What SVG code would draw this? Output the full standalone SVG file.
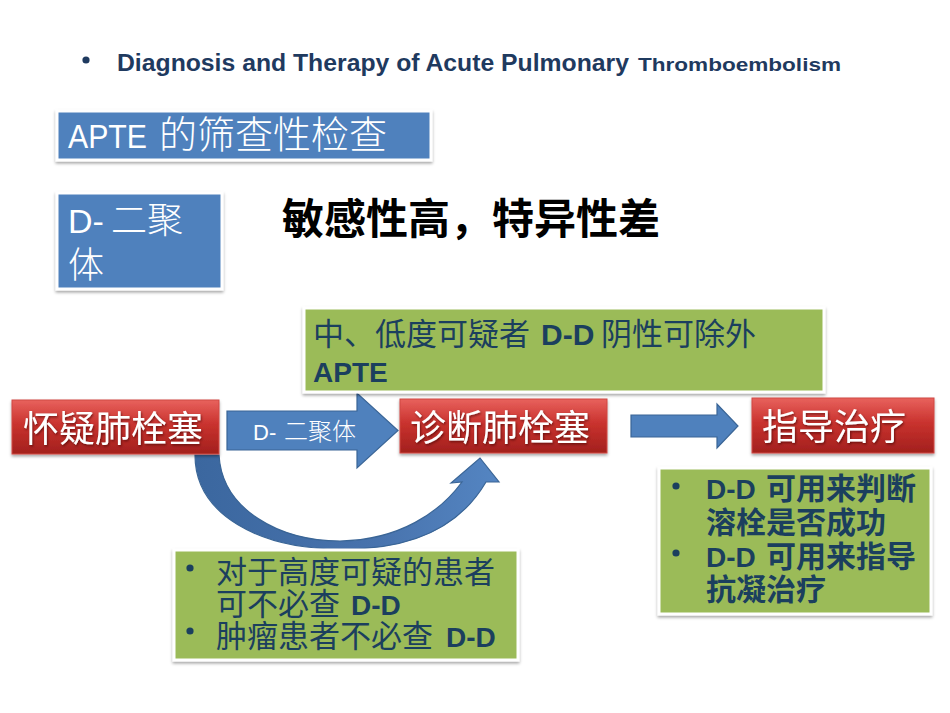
<svg xmlns="http://www.w3.org/2000/svg" width="950" height="713" viewBox="0 0 950 713">
<defs>
  <linearGradient id="redGrad" x1="0" y1="0" x2="0" y2="1">
    <stop offset="0" stop-color="#E8625D"/>
    <stop offset="0.45" stop-color="#C9322E"/>
    <stop offset="1" stop-color="#A2201D"/>
  </linearGradient>
  <linearGradient id="curveGrad" x1="0" y1="0" x2="1" y2="0">
    <stop offset="0" stop-color="#3B679F"/>
    <stop offset="0.6" stop-color="#4873AD"/>
    <stop offset="1" stop-color="#5485C2"/>
  </linearGradient>
  <filter id="shadow" x="-10%" y="-10%" width="120%" height="130%">
    <feDropShadow dx="0" dy="2" stdDeviation="1.8" flood-color="#000" flood-opacity="0.35"/>
  </filter>
  <filter id="tshadow" x="-5%" y="-5%" width="110%" height="120%">
    <feDropShadow dx="1" dy="1.5" stdDeviation="0.8" flood-color="#3a0000" flood-opacity="0.6"/>
  </filter>
</defs>
<style>
  .cjk { font-family: "Noto Sans CJK SC", "Noto Sans", sans-serif; }
  .lat { font-family: "Liberation Sans", "Noto Sans CJK SC", sans-serif; }
  .bluebox { fill: #4F81BD; stroke: #FFFFFF; stroke-width: 3; filter: url(#shadow); }
  .greenbox { fill: #9BBB59; stroke: #FFFFFF; stroke-width: 3; filter: url(#shadow); }
  .redbox { fill: url(#redGrad); stroke: #D04843; stroke-width: 1; filter: url(#shadow); }
  .arrow { fill: #4F81BD; stroke: #3A6596; stroke-width: 1.2; }
  .white { fill: #FFFFFF; }
  .redtxt { fill: #FFFFFF; font-size: 36px; filter: url(#tshadow); }
  .dark { fill: #1B3F5E; }
  .b { font-weight: bold; }
</style>
<rect x="0" y="0" width="950" height="713" fill="#FFFFFF"/>

<g id="title">
  <circle cx="86" cy="60" r="3.6" fill="#1F3A5F"/>
  <text x="117" y="71" class="lat b" font-size="23" fill="#1F3A5F" textLength="512" lengthAdjust="spacingAndGlyphs">Diagnosis and Therapy of Acute Pulmonary</text>
  <text x="638" y="71" class="lat b" font-size="19" fill="#1F3A5F" textLength="203" lengthAdjust="spacingAndGlyphs">Thromboembolism</text>
</g>

<g id="connectors">
  <polygon class="arrow" points="227,411 357,411 357,393 398,430.5 357,468 357,450 227,450"/>
  <text x="253" y="440" class="lat white" font-size="22">D-</text>
  <text x="284" y="440" class="cjk white" font-size="24" font-weight="300">二聚体</text>
  <polygon class="arrow" points="631,415 717,415 717,404 738,426 717,448 717,437 631,437"/>
  <path fill="url(#curveGrad)" stroke="#3A6596" stroke-width="1.2" d="M195,455 C195,515 260,549 340,549 C400,550 455,535 486,482 L499,482 L480,458 L451,483 L462,482 C440,512 400,540 340,541 C280,541 222,510 219,455 Z"/>
</g>

<g id="apte-box">
  <rect class="bluebox" x="57" y="111" width="374" height="49"/>
  <text x="68" y="148" class="lat white" font-size="34" textLength="79" lengthAdjust="spacingAndGlyphs">APTE</text>
  <text x="159" y="148" class="cjk white" font-size="38" font-weight="300">的筛查性检查</text>
</g>

<g id="dd-box">
  <rect class="bluebox" x="57" y="193" width="165" height="96"/>
  <text x="68" y="233" class="lat white" font-size="34">D-</text>
  <text x="111" y="233" class="cjk white" font-size="36" font-weight="300">二聚</text>
  <text x="68" y="278" class="cjk white" font-size="36" font-weight="300">体</text>
</g>

<g id="sensitivity">
  <text x="282" y="234" class="cjk b" font-size="42" fill="#000000">敏感性高，特异性差</text>
</g>

<g id="note-top">
  <rect class="greenbox" x="304" y="308" width="520" height="84"/>
  <text y="345" class="dark" font-size="31"><tspan x="313" class="cjk">中、低度可疑者</tspan><tspan x="541" class="lat b" font-size="30">D-D</tspan><tspan x="601" class="cjk">阴性可除外</tspan></text>
  <text x="313" y="382" class="lat b dark" font-size="28">APTE</text>
</g>

<g id="suspect">
  <rect class="redbox" x="12" y="400" width="207" height="54"/>
  <text x="23" y="442" class="cjk redtxt">怀疑肺栓塞</text>
</g>

<g id="diagnose">
  <rect class="redbox" x="400" y="399" width="207" height="54"/>
  <text x="410" y="441" class="cjk redtxt">诊断肺栓塞</text>
</g>

<g id="treat">
  <rect class="redbox" x="752" y="398" width="182" height="55"/>
  <text x="762" y="440" class="cjk redtxt">指导治疗</text>
</g>

<g id="note-right">
  <rect class="greenbox" x="659" y="468" width="272" height="146"/>
  <circle cx="676" cy="486" r="3.6" fill="#1B3F5E"/>
  <circle cx="676" cy="553" r="3.6" fill="#1B3F5E"/>
  <text y="499" class="dark b" font-size="30"><tspan x="706" class="lat" font-size="28">D-D</tspan><tspan x="766" class="cjk">可用来判断</tspan></text>
  <text x="706" y="533" class="cjk dark b" font-size="30">溶栓是否成功</text>
  <text y="567" class="dark b" font-size="30"><tspan x="706" class="lat" font-size="28">D-D</tspan><tspan x="766" class="cjk">可用来指导</tspan></text>
  <text x="706" y="600" class="cjk dark b" font-size="30">抗凝治疗</text>
</g>

<g id="note-bottom">
  <rect class="greenbox" x="174" y="550" width="344" height="110"/>
  <circle cx="190" cy="568" r="3.6" fill="#1B3F5E"/>
  <circle cx="190" cy="631" r="3.6" fill="#1B3F5E"/>
  <text x="216" y="583" class="cjk dark" font-size="31">对于高度可疑的患者</text>
  <text y="615" class="dark" font-size="31"><tspan x="216" class="cjk">可不必查</tspan><tspan x="351" class="lat b" font-size="28">D-D</tspan></text>
  <text y="647" class="dark" font-size="31"><tspan x="216" class="cjk">肿瘤患者不必查</tspan><tspan x="446" class="lat b" font-size="28">D-D</tspan></text>
</g>
</svg>
